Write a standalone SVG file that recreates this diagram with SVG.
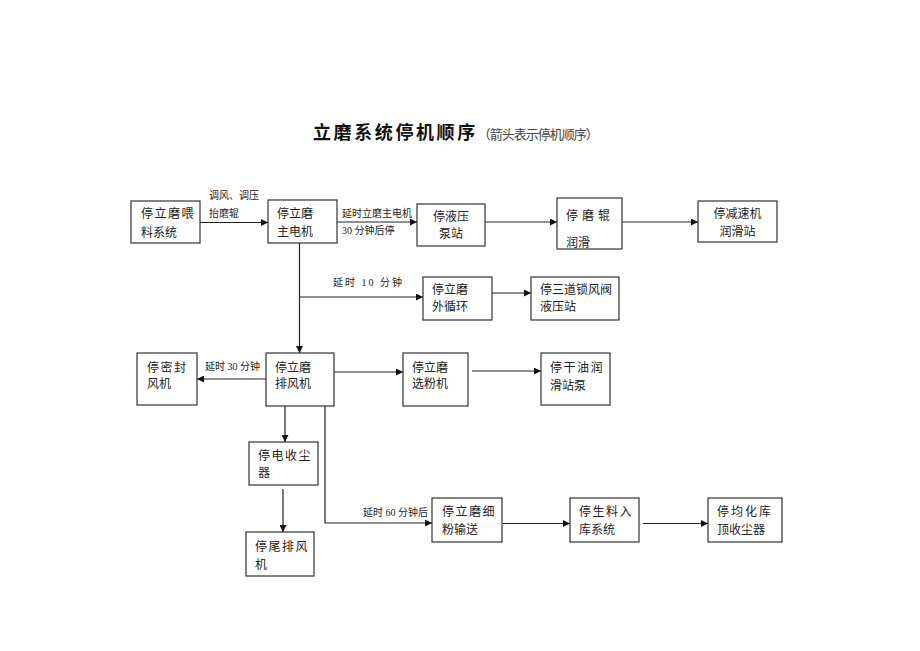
<svg xmlns="http://www.w3.org/2000/svg" width="920" height="651" viewBox="0 0 920 651">
<style>
.b{fill:#fff;stroke:#333;stroke-width:1.2}
.t{font-family:"Liberation Serif","Noto Sans CJK SC",serif;font-size:12px;fill:#222}
.s{font-family:"Liberation Serif","Noto Sans CJK SC",serif;font-size:10px;fill:#222}
.c{fill:none;stroke:#222;stroke-width:1.2}
</style>
<defs>
<marker id="a" viewBox="0 0 10 10" refX="10" refY="5" markerWidth="7" markerHeight="7" markerUnits="userSpaceOnUse" orient="auto">
<path d="M0,0 L10,5 L0,10 z" fill="#111"/>
</marker>
</defs>
<rect width="920" height="651" fill="#fff"/>
<text x="313" y="139" font-family="'Noto Sans CJK SC',sans-serif" font-size="18" font-weight="bold" letter-spacing="2.6" fill="#111">立磨系统停机顺序<tspan font-size="13" font-weight="normal" letter-spacing="-1" fill="#444">（箭头表示停机顺序）</tspan></text>

<g id="connectors">
<path class="c" d="M200,222.5 H268" marker-end="url(#a)"/>
<path class="c" d="M337,222 H417" marker-end="url(#a)"/>
<path class="c" d="M485,222 H557" marker-end="url(#a)"/>
<path class="c" d="M622,222 H698" marker-end="url(#a)"/>
<path class="c" d="M299.5,243 V353" marker-end="url(#a)"/>
<path class="c" d="M299.5,297 H423" marker-end="url(#a)"/>
<path class="c" d="M492,293 H531" marker-end="url(#a)"/>
<path class="c" d="M266,379 H197" marker-end="url(#a)"/>
<path class="c" d="M334,372 H403" marker-end="url(#a)"/>
<path class="c" d="M472,371 H541" marker-end="url(#a)"/>
<path class="c" d="M285,406 V442" marker-end="url(#a)"/>
<path class="c" d="M283,489 V532" marker-end="url(#a)"/>
<path class="c" d="M325,406 V523 H432" marker-end="url(#a)"/>
<path class="c" d="M503,523.5 H570" marker-end="url(#a)"/>
<path class="c" d="M643,523.5 H708" marker-end="url(#a)"/>
<text class="s" x="209" y="199">调风、调压</text>
<text class="s" x="209" y="217">抬磨辊</text>
<text class="s" x="342" y="217">延时立磨主电机</text>
<text class="s" x="342" y="234">30 分钟后停</text>
<text class="s" x="333" y="286" letter-spacing="2">延时 10 分钟</text>
<text class="s" x="205" y="370">延时 30 分钟</text>
<text class="s" x="363" y="516">延时 60 分钟后</text>
</g>

<g id="n1"><rect class="b" x="131" y="201" width="69" height="42"/><text class="t" x="141" y="218" letter-spacing="1.5">停立磨喂</text><text class="t" x="141" y="237">料系统</text></g>
<g id="n2"><rect class="b" x="268" y="200" width="69" height="43"/><text class="t" x="277" y="218">停立磨</text><text class="t" x="277" y="236">主电机</text></g>
<g id="n3"><rect class="b" x="417" y="204" width="68" height="42"/><text class="t" x="451" y="221" text-anchor="middle">停液压</text><text class="t" x="451" y="238" text-anchor="middle">泵站</text></g>
<g id="n4"><rect class="b" x="557" y="198" width="65" height="51"/><text class="t" x="566" y="220" font-size="13" letter-spacing="4">停磨辊</text><text class="t" x="566" y="247" font-size="13">润滑</text></g>
<g id="n5"><rect class="b" x="698" y="201" width="79" height="41"/><text class="t" x="737.5" y="218" text-anchor="middle">停减速机</text><text class="t" x="737.5" y="236" text-anchor="middle">润滑站</text></g>
<g id="n6"><rect class="b" x="423" y="277" width="69" height="43"/><text class="t" x="432" y="294">停立磨</text><text class="t" x="432" y="311">外循环</text></g>
<g id="n7"><rect class="b" x="531" y="277" width="88" height="43"/><text class="t" x="540" y="294">停三道锁风阀</text><text class="t" x="540" y="311">液压站</text></g>
<g id="n8"><rect class="b" x="137" y="353" width="60" height="52"/><text class="t" x="147" y="372" letter-spacing="1.5">停密封</text><text class="t" x="147" y="388">风机</text></g>
<g id="n9"><rect class="b" x="266" y="353" width="68" height="53"/><text class="t" x="275" y="372">停立磨</text><text class="t" x="275" y="388">排风机</text></g>
<g id="n10"><rect class="b" x="403" y="353" width="65" height="53"/><text class="t" x="412" y="372">停立磨</text><text class="t" x="412" y="388">选粉机</text></g>
<g id="n11"><rect class="b" x="541" y="353" width="69" height="52"/><text class="t" x="550" y="372" letter-spacing="1.5">停干油润</text><text class="t" x="550" y="390">滑站泵</text></g>
<g id="n12"><rect class="b" x="249" y="442" width="69" height="43"/><text class="t" x="258" y="460" letter-spacing="1.5">停电收尘</text><text class="t" x="258" y="477">器</text></g>
<g id="n13"><rect class="b" x="246" y="532" width="68" height="44"/><text class="t" x="255" y="551" letter-spacing="1.5">停尾排风</text><text class="t" x="255" y="569">机</text></g>
<g id="n14"><rect class="b" x="432" y="498" width="70" height="44"/><text class="t" x="442" y="516" letter-spacing="1.5">停立磨细</text><text class="t" x="442" y="534">粉输送</text></g>
<g id="n15"><rect class="b" x="570" y="498" width="69" height="44"/><text class="t" x="579" y="516" letter-spacing="1.5">停生料入</text><text class="t" x="579" y="534">库系统</text></g>
<g id="n16"><rect class="b" x="708" y="498" width="74" height="44"/><text class="t" x="717" y="516" letter-spacing="2">停均化库</text><text class="t" x="717" y="534">顶收尘器</text></g>
</svg>
